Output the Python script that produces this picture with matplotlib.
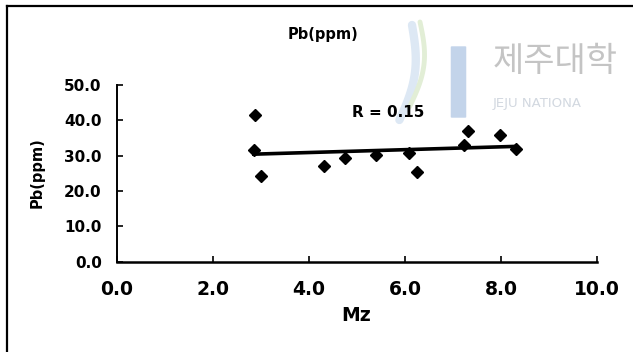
import numpy as np
import matplotlib
matplotlib.use('Agg')
import matplotlib.pyplot as plt
from matplotlib.lines import Line2D
from matplotlib.patches import FancyBboxPatch

# grain size (Mz) vs lead content
mz = [2.88, 2.85, 2.99, 4.32, 4.74, 5.39, 6.08, 6.26, 7.22, 7.32, 7.98, 8.31]
pb = [41.5, 31.7, 24.3, 27.2, 29.4, 30.1, 30.8, 25.4, 32.9, 37.1, 35.8, 31.9]
r_label = 'R = 0.15'
xticks = [0, 2, 4, 6, 8, 10]
yticks = [0, 10, 20, 30, 40, 50]

plt.rcParams['font.family'] = ['DejaVu Sans', 'Noto Sans CJK KR']

fig = plt.figure(figsize=(6.33, 3.52), dpi=100)
W, H = 633.0, 352.0

def fx(px):
    return px / W

def fy(py):
    return 1 - py / H

# faint watermark behind the chart
fig.text(fx(493), fy(62), '제주대학', family=['Noto Sans CJK KR'], fontsize=24.5,
         color='#c4c4c4', va='center', ha='left', zorder=-2)
fig.text(fx(493), fy(104), 'JEJU NATIONA', family=['DejaVu Sans'], fontsize=9.5,
         color='#d2d8e0', va='center', ha='left', zorder=-2)
fig.add_artist(FancyBboxPatch((fx(452), fy(117)), fx(13), 70 / H,
                              boxstyle='round,pad=0.002', fc='#c3d4ea', ec='none',
                              transform=fig.transFigure, zorder=-2))
t = np.linspace(0, 1, 50)
fig.add_artist(Line2D(fx(412 + 10 * np.sin(t * 3.0) - 14 * t), fy(25 + 95 * t),
                      color='#dde8f4', lw=6, solid_capstyle='round',
                      transform=fig.transFigure, zorder=-2))
fig.add_artist(Line2D(fx(420 + 10 * np.sin(t * 3.0) - 12 * t), fy(22 + 85 * t),
                      color='#e2eed6', lw=3.5, solid_capstyle='round',
                      transform=fig.transFigure, zorder=-2))

# outer frame (left and top edges)
fig.add_artist(Line2D([fx(7), fx(7)], [0, fy(6)], color='black', lw=1.6, transform=fig.transFigure))
fig.add_artist(Line2D([fx(7), 1], [fy(6), fy(6)], color='black', lw=1.6, transform=fig.transFigure))

ax = fig.add_axes([fx(117), fy(261.7), (597 - 117) / W, (261.7 - 85) / H])
ax.patch.set_alpha(0)

ax.plot(mz, pb, 'D', color='black', ms=6.5, zorder=3)

# least-squares line over the sampled range
slope, icept = np.polyfit(mz, pb, 1)
xl = np.array([min(mz), max(mz)])
ax.plot(xl, slope * xl + icept, color='black', lw=2.6, zorder=2)

ax.text(4.9, 42.2, r_label, fontsize=11, fontweight='bold', va='center', ha='left')

ax.set_xlim(0, 10)
ax.set_ylim(0, 50)
ax.set_xticks(xticks)
ax.set_yticks(yticks)
ax.set_xticklabels(['%.1f' % v for v in xticks], fontsize=13.5, fontweight='bold')
ax.set_yticklabels(['%.1f' % v for v in yticks], fontsize=11, fontweight='bold')
ax.tick_params(axis='both', direction='in', length=4, width=1.2)
ax.tick_params(axis='x', pad=13)
ax.tick_params(axis='y', pad=11)
for s in ['top', 'right']:
    ax.spines[s].set_visible(False)
ax.spines['left'].set_linewidth(1.4)
ax.spines['bottom'].set_linewidth(1.8)

ax.set_xlabel('Mz', fontsize=13.5, fontweight='bold')
ax.xaxis.set_label_coords((356 - 117) / 480.0, -(306 - 261.7) / 176.7)
ax.set_ylabel('Pb(ppm)', fontsize=10.5, fontweight='bold')
ax.yaxis.set_label_coords(-(117 - 45) / 480.0, (261.7 - 173) / 176.7)

fig.text(fx(323), fy(35), 'Pb(ppm)', fontsize=10.5, fontweight='bold', ha='center', va='center')

fig.savefig('out.png', dpi=100)
